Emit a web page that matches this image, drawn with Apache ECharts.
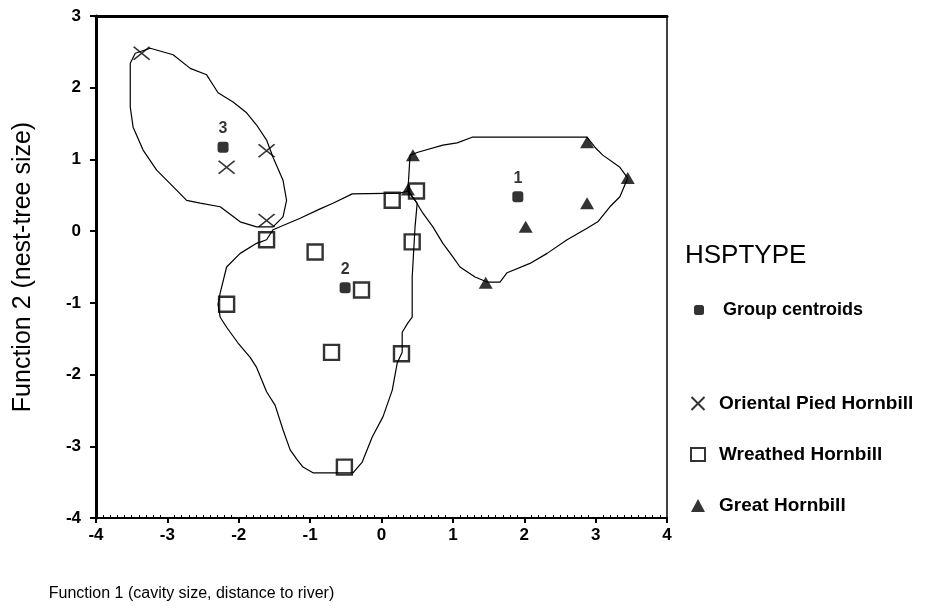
<!DOCTYPE html>
<html>
<head>
<meta charset="utf-8">
<script src="https://cdn.jsdelivr.net/npm/echarts@6/dist/echarts.min.js"></script>
<style>
html,body{margin:0;padding:0;background:#fff;}
#chart{width:927px;height:614px;}
</style>
</head>
<body>
<div id="chart"></div>
<script>
// ---- data (discriminant function scores) ----
const xAxisTitle = 'Function 1 (cavity size, distance to river)';
const yAxisTitle = 'Function 2 (nest-tree size)';
const legendTitle = 'HSPTYPE';
const seriesNames = ['Group centroids', 'Oriental Pied Hornbill', 'Wreathed Hornbill', 'Great Hornbill'];

const centroidPoints = [[1.91, 0.48], [-0.51, -0.79], [-2.22, 1.17]];
const centroidLabels = ['1', '2', '3'];

const orientalPied = [[-3.36, 2.48], [-1.61, 1.12], [-2.17, 0.89], [-1.61, 0.15]];
const wreathed = [[-1.61, -0.12], [-0.93, -0.29], [0.15, 0.43], [0.49, 0.56], [0.43, -0.15],
                  [-0.28, -0.82], [-2.17, -1.02], [-0.70, -1.69], [0.28, -1.71], [-0.52, -3.29]];
const great = [[0.44, 1.06], [0.37, 0.58], [2.88, 1.24], [3.45, 0.74], [2.88, 0.39], [2.02, 0.06], [1.46, -0.72]];

// hand-drawn group outlines (data units)
const hullOriental = [[-3.52,2.34],[-3.45,2.48],[-3.24,2.55],[-2.92,2.46],[-2.68,2.27],[-2.45,2.18],[-2.29,1.93],[-2.08,1.80],[-1.89,1.65],[-1.75,1.48],[-1.61,1.27],[-1.52,1.03],[-1.38,0.71],[-1.33,0.43],[-1.38,0.20],[-1.52,0.06],[-1.75,0.06],[-1.98,0.13],[-2.26,0.34],[-2.54,0.39],[-2.73,0.43],[-2.92,0.62],[-3.15,0.85],[-3.34,1.13],[-3.48,1.45],[-3.52,1.73],[-3.52,2.07]];
const hullWreathed = [[-1.61,-0.12],[-1.52,0.02],[-1.14,0.18],[-0.86,0.31],[-0.68,0.39],[-0.41,0.52],[0.26,0.53],[0.37,0.56],[0.50,0.39],[0.47,0.06],[0.43,-0.64],[0.43,-1.20],[0.37,-1.28],[0.29,-1.41],[0.29,-1.69],[0.22,-1.84],[0.15,-2.22],[0.02,-2.59],[-0.13,-2.87],[-0.27,-3.22],[-0.40,-3.37],[-0.96,-3.37],[-1.10,-3.29],[-1.18,-3.19],[-1.28,-3.05],[-1.38,-2.77],[-1.49,-2.43],[-1.61,-2.24],[-1.75,-1.90],[-1.84,-1.76],[-2.01,-1.56],[-2.17,-1.34],[-2.26,-1.20],[-2.29,-1.02],[-2.26,-0.86],[-2.17,-0.50],[-1.98,-0.31],[-1.75,-0.17]];
const hullGreat = [[0.37,0.56],[0.40,1.06],[0.51,1.10],[0.86,1.20],[1.06,1.23],[1.27,1.31],[2.88,1.31],[2.99,1.17],[3.10,1.06],[3.34,0.89],[3.45,0.74],[3.34,0.48],[3.20,0.34],[3.03,0.13],[2.88,0.04],[2.60,-0.12],[2.32,-0.31],[2.08,-0.45],[1.76,-0.58],[1.66,-0.71],[1.48,-0.71],[1.31,-0.64],[1.10,-0.50],[1.00,-0.36],[0.86,-0.17],[0.72,0.06],[0.58,0.25],[0.47,0.43]];

const xMin = -4, xMax = 4, yMin = -4, yMax = 3;

// ---- chart ----
const FONT = "'Liberation Sans', Arial, Helvetica, sans-serif";
const chart = echarts.init(document.getElementById('chart'), null, {renderer: 'canvas'});
const closed = arr => arr.concat([arr[0]]);
const hullSeries = arr => ({
  type: 'line', data: closed(arr), showSymbol: false, symbol: 'none', silent: true,
  lineStyle: {color: '#000', width: 1.2}, z: 1, animation: false
});
const xSymbol = 'path://M0,0L10,10M10,0L0,10';

const option = {
  animation: false,
  backgroundColor: '#fff',
  textStyle: {fontFamily: FONT, color: '#000'},
  title: {
    text: legendTitle, left: 680, top: 238,
    textStyle: {fontFamily: FONT, fontSize: 26, fontWeight: 'normal', color: '#000'}
  },
  grid: {left: 96, top: 16, width: 571, height: 502, containLabel: false},
  xAxis: [{
    type: 'value', min: xMin, max: xMax, interval: 1, position: 'bottom',
    axisLine: {onZero: false, lineStyle: {color: '#000', width: 2}},
    axisTick: {length: 5, lineStyle: {color: '#000', width: 2}},
    minorTick: {show: true, splitNumber: 10, length: -3, lineStyle: {color: '#000', width: 1}},
    axisLabel: {margin: 9, fontSize: 17, fontWeight: 'bold', color: '#000', fontFamily: FONT},
    splitLine: {show: false},
    name: xAxisTitle, nameLocation: 'middle', nameGap: 68,
    nameTextStyle: {fontSize: 16, color: '#000', fontFamily: FONT, padding: [0, 380, 0, 0]}
  }, {
    type: 'value', min: xMin, max: xMax, interval: 1, position: 'top',
    axisLine: {onZero: false, lineStyle: {color: '#000', width: 3}},
    axisTick: {show: false}, axisLabel: {show: false}, splitLine: {show: false}
  }],
  yAxis: [{
    type: 'value', min: yMin, max: yMax, interval: 1, position: 'left',
    axisLine: {onZero: false, lineStyle: {color: '#000', width: 3}},
    axisTick: {length: 6, lineStyle: {color: '#000', width: 2}},
    axisLabel: {margin: 15, fontSize: 17, fontWeight: 'bold', color: '#000', fontFamily: FONT},
    splitLine: {show: false},
    name: yAxisTitle, nameLocation: 'middle', nameGap: 60,
    nameTextStyle: {fontSize: 25, color: '#000', fontFamily: FONT}
  }, {
    type: 'value', min: yMin, max: yMax, interval: 1, position: 'right',
    axisLine: {onZero: false, lineStyle: {color: '#000', width: 1.5}},
    axisTick: {show: false}, axisLabel: {show: false}, splitLine: {show: false}
  }],
  legend: [{
    data: [{name: seriesNames[0], icon: 'roundRect'}],
    orient: 'vertical', left: 689, top: 296, itemWidth: 10, itemHeight: 10,
    selectedMode: false,
    textStyle: {fontFamily: FONT, fontSize: 18, fontWeight: 'bold', color: '#000', padding: [0, 0, 0, 14]}
  }, {
    data: [
      {name: seriesNames[1], icon: xSymbol},
      {name: seriesNames[2], icon: 'rect'},
      {name: seriesNames[3], icon: 'triangle'}
    ],
    orient: 'vertical', left: 685, top: 389, itemWidth: 14, itemHeight: 13, itemGap: 32,
    selectedMode: false,
    textStyle: {fontFamily: FONT, fontSize: 19, fontWeight: 'bold', color: '#000', lineHeight: 18, padding: [0, 0, 0, 9]}
  }],
  series: [
    hullSeries(hullOriental),
    hullSeries(hullWreathed),
    hullSeries(hullGreat),
    {
      name: seriesNames[0], type: 'scatter', z: 4,
      data: centroidPoints.map((p, i) => ({value: p, label: {formatter: centroidLabels[i]}})),
      symbol: 'roundRect', symbolSize: 11,
      itemStyle: {color: '#000'},
      label: {show: true, position: 'top', distance: 5, fontSize: 16, fontWeight: 'bold', color: '#000', fontFamily: FONT}
    },
    {
      name: seriesNames[1], type: 'scatter', z: 3, data: orientalPied,
      symbol: xSymbol, symbolSize: [16, 13],
      itemStyle: {color: 'transparent', borderColor: '#000', borderWidth: 1.6}
    },
    {
      name: seriesNames[2], type: 'scatter', z: 3, data: wreathed,
      symbol: 'rect', symbolSize: 15,
      itemStyle: {color: 'transparent', borderColor: '#000', borderWidth: 2.4}
    },
    {
      name: seriesNames[3], type: 'scatter', z: 3, data: great,
      symbol: 'triangle', symbolSize: [14, 12],
      itemStyle: {color: '#000'}
    }
  ]
};
chart.setOption(option);
</script>
</body>
</html>
